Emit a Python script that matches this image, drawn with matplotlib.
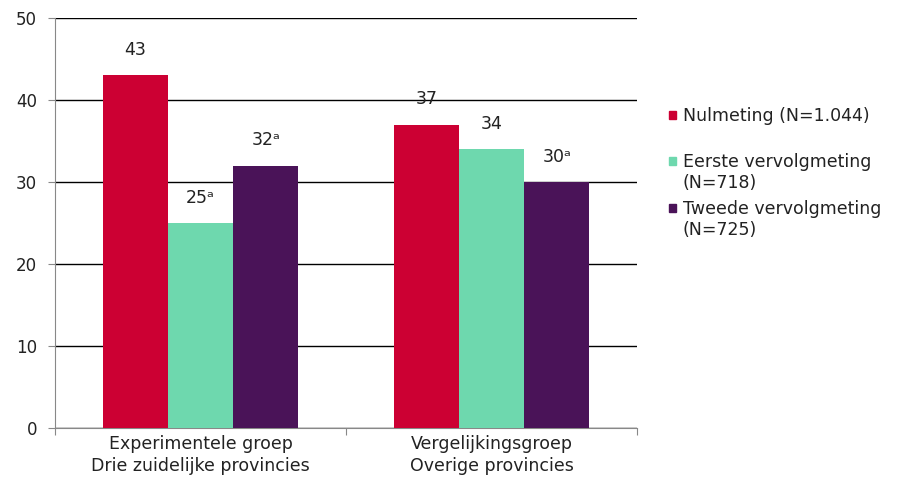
import matplotlib
matplotlib.use("Agg")
import matplotlib.pyplot as plt
from matplotlib.patches import Rectangle
import numpy as np

categories = ["Experimentele groep\nDrie zuidelijke provincies", "Vergelijkingsgroep\nOverige provincies"]
series_names = ["Nulmeting (N=1.044)", "Eerste vervolgmeting\n(N=718)", "Tweede vervolgmeting\n(N=725)"]
nulmeting = [43, 37]
eerste = [25, 34]
tweede = [32, 30]
labels_nul = ["43", "37"]
labels_eerste = ["25ᵃ", "34"]
labels_tweede = ["32ᵃ", "30ᵃ"]
colors = ["#CC0033", "#6ED8AE", "#4A1358"]

plt.rcParams['font.family'] = ['DejaVu Sans']
fig = plt.figure(figsize=(8.99, 4.83), dpi=100)
ax = fig.add_axes([55/899, 1 - 428/483, (637-55)/899, (428-18)/483])

x = np.arange(len(categories))
w = 0.224
series = [nulmeting, eerste, tweede]
labs = [labels_nul, labels_eerste, labels_tweede]
for i, (vals, lab, c, name) in enumerate(zip(series, labs, colors, series_names)):
    pos = x + (i - 1) * w
    ax.bar(pos, vals, w, color=c, label=name, zorder=3)
    for p, v, t in zip(pos, vals, lab):
        ax.text(p, v + 2.0, t, ha="center", va="bottom", fontsize=12.5, color="#222222")

ax.set_xlim(-0.5, 1.5)
ax.set_ylim(0, 50)
ax.set_yticks(range(0, 51, 10))
ax.yaxis.grid(True, color="black", linewidth=1.0, zorder=0)
ax.set_axisbelow(True)
ax.set_xticks([-0.5, 0.5, 1.5], minor=False)
ax.set_xticklabels([])
ax.set_xticks(x, minor=True)
ax.set_xticklabels(categories, minor=True, fontsize=12.5, color="#222222", linespacing=1.3)
ax.tick_params(axis="x", which="minor", length=0, pad=5)
ax.tick_params(axis="x", which="major", length=5, color="#888888", direction="out")
ax.tick_params(axis="y", length=5, color="#888888", labelsize=12, labelcolor="#222222", pad=8)
for s in ["top", "right"]:
    ax.spines[s].set_visible(False)
for s in ["left", "bottom"]:
    ax.spines[s].set_color("#888888")

# legend drawn with markers aligned to the first text line
leg_y = [115, 161, 208]
for c, name, yy in zip(colors, series_names, leg_y):
    fig.patches.append(Rectangle((669/899, 1 - (yy + 4)/483), 7/899, 8/483,
                                 transform=fig.transFigure, color=c, figure=fig))
    fig.text(683/899, 1 - (yy - 8)/483, name, ha="left", va="top", fontsize=12.5,
             color="#222222", linespacing=1.2)

fig.savefig("out.png", dpi=100)
